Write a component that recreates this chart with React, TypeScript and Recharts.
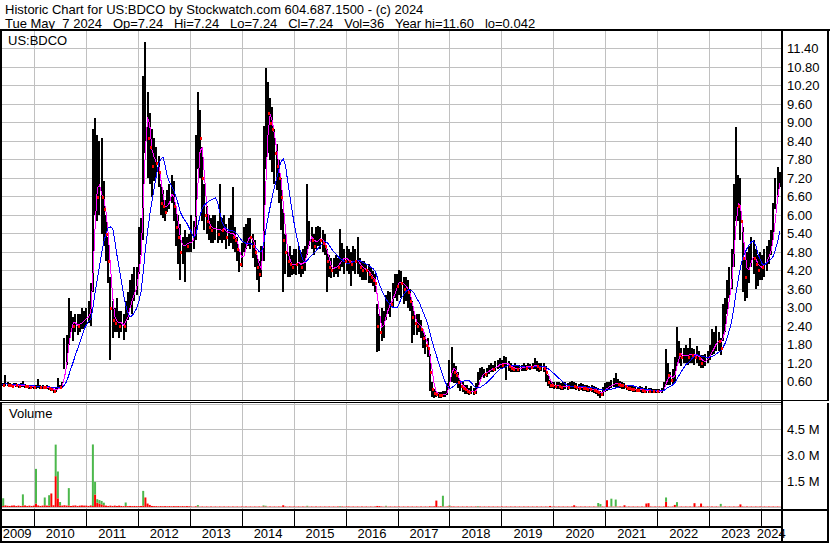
import React from 'react';
import { ComposedChart, Bar, Line, Scatter, XAxis, YAxis, CartesianGrid } from 'recharts';

// ---- semi-monthly price samples (close / high / low) ----
const close2009 = [0.52,0.50,0.55,0.50,0.48,0.47,0.50,0.49,0.46,0.47,0.48,0.45,0.44,0.43,0.44];
const high2009 = [0.58,0.56,0.82,0.58,0.54,0.53,0.56,0.55,0.52,0.54,0.62,0.52,0.50,0.49,0.50];
const low2009 = [0.46,0.44,0.45,0.44,0.42,0.41,0.44,0.42,0.40,0.41,0.42,0.39,0.38,0.37,0.38];

const close2010 = [0.42,0.43,0.44,0.43,0.42,0.41,0.42,0.40,0.36,0.30,0.33,0.45,0.42,0.50,1.30,1.60,2.50,2.60,2.40,2.50,2.40,2.50,2.60,2.60];
const high2010 = [0.48,0.50,0.68,0.49,0.48,0.47,0.49,0.46,0.42,0.36,0.40,0.70,0.50,0.60,2.00,2.10,3.30,2.90,2.70,2.80,2.80,2.80,3.00,2.90];
const low2010 = [0.37,0.37,0.38,0.37,0.36,0.35,0.36,0.34,0.30,0.22,0.26,0.35,0.36,0.40,1.00,1.14,1.80,2.20,1.90,2.20,2.10,2.20,2.30,2.30];

const close2011 = [2.70,2.80,3.00,6.50,7.50,6.60,6.80,6.60,6.20,5.40,4.50,3.00,2.60,2.50,2.60,2.40,2.50,2.40,2.70,3.00,3.30,3.40,3.70,3.80];
const high2011 = [3.00,3.20,3.80,8.80,9.15,8.60,8.40,8.50,7.10,6.00,5.30,4.00,3.20,3.00,3.30,2.90,2.90,2.80,3.20,3.50,3.90,4.10,4.30,4.30];
const low2011 = [2.40,2.50,2.40,3.50,6.00,5.80,6.00,5.40,5.00,4.50,3.80,1.30,2.00,2.20,2.20,2.00,2.20,1.95,2.20,2.60,3.00,2.80,3.20,3.40];

const close2012 = [4.90,5.40,9.00,10.00,8.50,8.20,7.60,7.80,7.70,7.40,6.40,6.30,6.10,6.50,6.60,6.90,6.30,5.60,5.30,4.80,5.00,5.20,5.00,5.10];
const high2012 = [5.60,5.90,10.50,11.60,10.00,9.30,8.80,8.50,8.20,7.90,7.00,6.80,6.50,6.80,7.00,7.30,7.10,6.30,6.00,5.70,5.30,5.50,5.30,5.40];
const low2012 = [4.10,4.70,5.20,8.00,7.20,7.00,6.60,7.10,7.20,6.90,6.00,5.90,5.80,6.10,6.20,6.40,5.80,5.00,4.40,3.90,4.40,3.83,4.80,4.80];

const close2013 = [5.20,5.30,7.00,8.80,8.50,7.20,6.00,5.80,5.60,5.50,5.60,5.60,5.40,5.60,5.50,5.60,5.30,5.40,5.50,5.30,5.20,4.90,4.40,4.60];
const high2013 = [6.00,5.80,8.60,9.98,9.40,8.20,7.00,6.30,6.00,5.90,6.00,6.00,5.80,7.00,5.90,6.00,5.70,5.90,6.00,6.90,5.60,5.30,4.90,5.10];
const low2013 = [4.80,4.90,5.20,7.50,7.20,5.80,5.50,5.40,5.20,5.10,5.10,5.20,5.10,5.20,5.10,5.20,4.90,5.00,5.10,4.90,4.80,4.50,4.15,4.30];

const close2014 = [5.00,5.20,5.40,5.30,5.00,4.80,4.30,4.10,4.40,7.00,9.50,9.30,9.00,8.80,8.00,7.60,7.20,6.60,5.20,4.80,4.50,4.40,4.30,4.50];
const high2014 = [5.60,5.70,5.90,5.90,5.40,5.20,4.70,4.50,5.00,8.90,10.76,10.30,9.80,9.50,8.80,8.30,7.80,7.20,6.20,5.40,4.80,5.00,4.70,4.90];
const low2014 = [4.80,4.90,5.00,4.90,4.60,4.30,3.90,3.50,4.00,4.50,7.50,8.00,7.80,7.40,7.00,6.80,6.40,5.50,3.50,4.10,4.00,4.00,4.05,4.10];

const close2015 = [4.40,4.50,4.30,4.50,4.60,5.30,5.40,5.20,5.00,5.20,5.30,5.20,5.10,5.00,4.50,4.30,4.20,4.30,4.40,4.30,4.60,4.70,4.50,4.60];
const high2015 = [4.90,5.00,4.80,4.90,5.00,7.00,5.80,5.60,5.40,5.60,5.65,5.60,5.50,5.40,4.90,4.70,4.60,4.60,4.70,4.60,5.55,5.10,4.90,5.00];
const low2015 = [4.05,4.10,4.00,4.10,4.20,4.70,5.00,4.90,4.70,4.90,5.00,4.90,4.80,4.70,3.50,4.00,3.95,4.00,4.10,4.00,4.20,4.30,4.10,4.20];

const close2016 = [4.50,4.40,4.60,4.50,4.50,4.30,4.20,4.30,4.20,4.10,4.00,3.90,3.80,2.40,2.20,2.50,2.60,3.00,3.20,3.10,3.40,3.80,3.70,3.90];
const high2016 = [4.90,4.80,5.00,4.90,5.30,4.60,4.50,4.50,4.40,4.40,4.30,4.20,4.10,3.10,2.80,3.00,2.90,3.40,3.55,3.50,3.80,4.10,4.10,4.22];
const low2016 = [4.10,3.70,4.20,4.10,4.10,4.00,3.90,3.90,3.90,3.80,3.80,3.70,3.50,1.55,1.60,1.90,2.00,2.60,2.80,2.70,3.00,3.30,3.20,3.40];

const close2017 = [3.80,3.60,3.70,3.50,3.20,2.70,2.50,2.40,2.50,2.30,2.00,1.80,1.70,0.90,0.35,0.22,0.20,0.17,0.15,0.18,0.20,0.35,1.00,1.20];
const high2017 = [4.20,4.00,4.00,3.90,3.60,3.20,2.90,2.80,2.80,2.60,2.30,2.10,2.00,1.50,0.60,0.35,0.30,0.25,0.25,0.28,0.30,0.55,1.30,1.72];
const low2017 = [3.30,3.10,3.20,3.00,2.90,1.85,2.10,2.10,2.20,2.00,1.70,1.50,1.40,0.30,0.10,0.08,0.10,0.07,0.07,0.10,0.10,0.15,0.40,0.60];

const close2018 = [0.90,0.80,0.60,0.45,0.40,0.35,0.30,0.25,0.30,0.25,0.35,0.60,0.85,0.90,0.85,0.90,1.00,1.05,1.00,1.10,1.15,1.20,1.15,1.20];
const high2018 = [1.20,1.10,0.90,0.65,0.60,0.50,0.50,0.40,0.45,0.40,0.55,0.90,1.05,1.08,1.00,1.05,1.15,1.20,1.15,1.25,1.30,1.35,1.30,1.42];
const low2018 = [0.55,0.55,0.40,0.30,0.25,0.20,0.20,0.15,0.18,0.17,0.20,0.40,0.65,0.75,0.70,0.75,0.85,0.90,0.90,0.95,1.00,1.05,1.00,1.05];

const close2019 = [1.20,1.10,1.05,1.00,1.05,1.00,1.05,1.05,1.10,1.05,1.10,1.08,1.10,1.15,1.10,1.05,1.10,1.05,0.90,0.60,0.50,0.48,0.45,0.47];
const high2019 = [1.40,1.25,1.20,1.15,1.20,1.15,1.15,1.15,1.20,1.15,1.20,1.18,1.20,1.35,1.25,1.20,1.20,1.20,1.10,0.80,0.65,0.60,0.60,0.60];
const low2019 = [0.65,0.95,0.90,0.90,0.90,0.90,0.90,0.95,0.95,0.95,1.00,0.98,1.00,1.00,0.95,0.90,0.95,0.90,0.60,0.45,0.40,0.38,0.35,0.37];

const close2020 = [0.45,0.42,0.44,0.45,0.42,0.45,0.47,0.44,0.42,0.40,0.42,0.40,0.38,0.36,0.35,0.36,0.34,0.30,0.25,0.20,0.30,0.40,0.42,0.45];
const high2020 = [0.58,0.55,0.58,0.60,0.55,0.60,0.62,0.58,0.55,0.52,0.55,0.52,0.50,0.48,0.47,0.48,0.45,0.42,0.38,0.30,0.42,0.55,0.60,0.60];
const low2020 = [0.35,0.33,0.34,0.35,0.32,0.35,0.37,0.35,0.33,0.30,0.32,0.30,0.28,0.26,0.25,0.25,0.24,0.20,0.12,0.07,0.12,0.25,0.30,0.35];

const close2021 = [0.50,0.55,0.55,0.52,0.50,0.48,0.45,0.40,0.38,0.37,0.35,0.34,0.33,0.33,0.32,0.30,0.32,0.30,0.30,0.29,0.29,0.28,0.28,0.30];
const high2021 = [0.65,0.70,0.87,0.68,0.62,0.60,0.55,0.50,0.48,0.46,0.45,0.44,0.42,0.45,0.42,0.40,0.45,0.40,0.38,0.37,0.36,0.35,0.35,0.38];
const low2021 = [0.38,0.42,0.40,0.40,0.38,0.37,0.35,0.32,0.30,0.28,0.27,0.26,0.25,0.25,0.24,0.23,0.24,0.23,0.24,0.23,0.23,0.22,0.22,0.23];

const close2022 = [0.40,0.90,0.80,0.65,0.70,1.00,1.60,1.50,1.40,1.45,1.50,1.40,1.55,1.45,1.40,1.50,1.35,1.20,1.25,1.30,1.40,1.55,1.70,1.80];
const high2022 = [0.60,1.67,1.20,0.90,1.00,1.40,2.37,1.90,1.70,1.70,1.80,1.70,2.00,1.70,1.65,1.75,1.60,1.45,1.45,1.50,1.60,1.80,2.30,2.20];
const low2022 = [0.30,0.50,0.50,0.50,0.50,0.60,1.10,1.20,1.10,1.20,1.20,1.15,1.20,1.20,1.15,1.20,1.10,1.05,1.05,1.10,1.20,1.30,1.45,1.50];

const close2023 = [2.00,1.90,1.70,2.40,2.70,3.40,3.80,4.30,6.00,6.80,6.30,5.80,4.60,4.00,4.20,4.50,4.80,4.60,4.40,4.20,4.40,4.30,4.50,4.60];
const high2023 = [2.40,2.20,2.00,3.10,3.30,3.90,4.30,4.90,7.00,8.85,7.30,7.20,5.60,4.60,4.80,5.00,5.30,5.20,4.90,4.70,4.80,4.70,4.90,5.00];
const low2023 = [1.60,1.60,1.45,1.90,2.20,2.80,3.30,3.60,4.30,5.80,5.80,5.20,3.50,3.20,3.30,3.80,4.30,4.10,3.60,3.70,3.90,3.90,4.00,4.20];

const close2024 = [4.80,5.10,5.80,6.80,7.10,7.24];
const high2024 = [5.20,5.50,6.40,7.20,7.55,7.40];
const low2024 = [4.40,4.70,5.20,6.20,6.60,6.90];

// ---- volume (millions): red (down) and green (up) parts ----
const volRed2009 = [0.08,0.06,0.09,0.07,0.06,0.08,0.09,0.06,0.08,0.06,0.08,0.09,0.06,0.08,0.06];
const volGreen2009 = [0,0.45,0,0,0,0,0,0,0,0,0.65,0,0,0,0];
const volRed2010 = [0.08,0.20,0.09,0.06,0.08,0.10,0.08,0.08,0.78,0.10,1.78,0.50,0.09,0.08,0.10,0.08,0.09,0.06,0.08,0.09,0.06,0.08,0.09,0.08];
const volGreen2010 = [0,2.00,0,0,0,0.45,0,0.60,0,0,1.82,1.55,0.20,0,0,0,1.00,0,0,0,0,0,0,0];
const volRed2011 = [0.08,0.06,0.09,0.06,0.72,0.25,0.20,0.15,0.10,0.08,0.06,0.08,0.06,0.08,0.06,0.08,0.06,0.05,0.06,0.05,0.06,0.05,0.06,0.05];
const volGreen2011 = [0,0,0,3.55,0.73,0.20,0.20,0.20,0.15,0,0,0,0,0,0,0,0,0,0.20,0,0,0,0,0];
const volRed2012 = [0.05,0.06,0.08,0.55,0.20,0.12,0.06,0.05,0.05,0.04,0.05,0.04,0.05,0.04,0.05,0.04,0.05,0.04,0.05,0.04,0.05,0.04,0.05,0.04];
const volGreen2012 = [0,0,0.85,0,0,0,0,0,0,0,0,0,0,0,0,0,0,0,0,0,0,0,0,0];
const volRed2013 = [0.03,0.02,0.04,0.03,0.02,0.03,0.02,0.03,0.02,0.03,0.02,0.03,0.02,0.03,0.02,0.03,0.02,0.03,0.02,0.03,0.02,0.03,0.02,0.03];
const volGreen2013 = [0,0,0,0.08,0,0,0,0,0,0,0,0,0,0,0,0,0,0,0,0,0,0,0,0];
const volRed2014 = [0.02,0.03,0.02,0.03,0.02,0.03,0.02,0.03,0.02,0.04,0.03,0.02,0.03,0.02,0.03,0.02,0.03,0.02,0.10,0.03,0.02,0.03,0.02,0.03];
const volGreen2014 = [0,0,0,0,0,0,0,0,0,0.05,0.04,0,0,0,0,0,0,0,0,0,0,0,0,0];
const volRed2015 = [0.02,0.03,0.02,0.03,0.02,0.03,0.02,0.03,0.02,0.03,0.02,0.03,0.02,0.03,0.02,0.03,0.02,0.03,0.02,0.03,0.02,0.03,0.02,0.03];
const volGreen2015 = [0,0,0,0,0,0.04,0,0,0,0,0,0,0,0,0,0,0,0,0,0,0.03,0,0,0];
const volRed2016 = [0.03,0.02,0.03,0.02,0.03,0.02,0.03,0.02,0.03,0.02,0.03,0.02,0.03,0.06,0.05,0.03,0.02,0.03,0.02,0.03,0.02,0.03,0.02,0.03];
const volGreen2016 = [0,0,0,0,0,0,0,0,0,0,0,0,0,0,0,0,0,0.04,0,0,0,0,0,0];
const volRed2017 = [0.02,0.03,0.02,0.03,0.02,0.03,0.02,0.03,0.02,0.03,0.02,0.03,0.02,0.04,0.03,0.04,0.37,0.03,0.04,0.03,0.02,0.03,0.04,0.03];
const volGreen2017 = [0,0,0,0,0,0,0,0,0,0,0,0,0,0,0,0,0,0,0,0.62,0,0,0.05,0];
const volRed2018 = [0.03,0.02,0.03,0.02,0.03,0.02,0.03,0.02,0.03,0.02,0.03,0.02,0.03,0.02,0.03,0.02,0.03,0.02,0.03,0.02,0.03,0.02,0.03,0.02];
const volGreen2018 = [0,0,0,0,0,0,0,0,0,0,0,0.03,0,0,0,0,0,0,0,0,0,0,0,0];
const volRed2019 = [0.03,0.02,0.03,0.02,0.03,0.02,0.03,0.02,0.03,0.02,0.03,0.02,0.03,0.02,0.03,0.02,0.03,0.02,0.03,0.02,0.06,0.02,0.03,0.02];
const volGreen2019 = [0,0,0,0,0,0,0,0,0,0,0,0,0,0,0,0,0,0,0,0,0,0,0,0];
const volRed2020 = [0.03,0.02,0.03,0.02,0.03,0.02,0.03,0.10,0.03,0.02,0.03,0.02,0.03,0.02,0.03,0.02,0.03,0.02,0.03,0.02,0.03,0.02,0.39,0.02];
const volGreen2020 = [0,0,0,0,0,0,0,0,0,0,0,0,0,0,0,0,0,0,0.20,0.15,0,0,0,0];
const volRed2021 = [0.03,0.02,0.03,0.02,0.03,0.02,0.10,0.02,0.03,0.02,0.03,0.02,0.03,0.02,0.03,0.02,0.20,0.22,0.03,0.02,0.03,0.02,0.03,0.02];
const volGreen2021 = [0.45,0,0.40,0,0,0,0,0,0,0,0,0,0,0,0,0,0,0,0,0,0,0,0,0];
const volRed2022 = [0.03,0.30,0.03,0.02,0.03,0.12,0.03,0.02,0.03,0.02,0.03,0.02,0.03,0.02,0.22,0.02,0.03,0.20,0.03,0.02,0.03,0.02,0.03,0.02];
const volGreen2022 = [0,0.25,0,0,0,0,0.25,0,0,0,0,0,0,0,0,0,0,0,0,0,0,0,0,0];
const volRed2023 = [0.03,0.02,0.03,0.02,0.03,0.02,0.03,0.02,0.03,0.02,0.03,0.15,0.03,0.02,0.03,0.02,0.03,0.02,0.03,0.02,0.03,0.02,0.03,0.02];
const volGreen2023 = [0,0,0.15,0,0,0,0,0,0,0,0,0,0,0,0,0,0,0,0,0,0,0,0,0];
const volRed2024 = [0.03,0.02,0.03,0.02,0.03,0.02];
const volGreen2024 = [0,0,0,0,0,0];

// ---- time axis / ticks ----
const firstSampleDate = 2009.34;        // mid-May 2009
const lastSampleDate = 2024.371;        // 7 May 2024
const yearStarts = [2010,2011,2012,2013,2014,2015,2016,2017,2018,2019,2020,2021,2022,2023,2024];
const yearLabelPos = [2009.67,2010.5,2011.5,2012.5,2013.5,2014.5,2015.5,2016.5,2017.5,2018.5,2019.5,2020.5,2021.5,2022.5,2023.5,2024.185];
const priceTicks = [0.6,1.2,1.8,2.4,3.0,3.6,4.2,4.8,5.4,6.0,6.6,7.2,7.8,8.4,9.0,9.6,10.2,10.8,11.4];
const volumeTicks = [1.5,3.0,4.5];

const closes = [...close2009,...close2010,...close2011,...close2012,...close2013,...close2014,...close2015,...close2016,...close2017,...close2018,...close2019,...close2020,...close2021,...close2022,...close2023,...close2024];
const highs = [...high2009,...high2010,...high2011,...high2012,...high2013,...high2014,...high2015,...high2016,...high2017,...high2018,...high2019,...high2020,...high2021,...high2022,...high2023,...high2024];
const lows = [...low2009,...low2010,...low2011,...low2012,...low2013,...low2014,...low2015,...low2016,...low2017,...low2018,...low2019,...low2020,...low2021,...low2022,...low2023,...low2024];
const volReds = [...volRed2009,...volRed2010,...volRed2011,...volRed2012,...volRed2013,...volRed2014,...volRed2015,...volRed2016,...volRed2017,...volRed2018,...volRed2019,...volRed2020,...volRed2021,...volRed2022,...volRed2023,...volRed2024];
const volGreens = [...volGreen2009,...volGreen2010,...volGreen2011,...volGreen2012,...volGreen2013,...volGreen2014,...volGreen2015,...volGreen2016,...volGreen2017,...volGreen2018,...volGreen2019,...volGreen2020,...volGreen2021,...volGreen2022,...volGreen2023,...volGreen2024];

const sampleStep = (lastSampleDate - firstSampleDate) / closes.length;

function movingAvg(arr: number[], n: number, i: number) {
  let s = 0, c = 0;
  for (let k = Math.max(0, i - n + 1); k <= i; k++) { s += arr[k]; c++; }
  return s / c;
}

const data = closes.map((c, i) => ({
  t: firstSampleDate + (i + 0.5) * sampleStep,
  rng: [lows[i], highs[i]],
  close: c,
  dn: i > 0 && c < closes[i - 1],
  ma3: movingAvg(closes, 3, i),
  ma10: movingAvg(closes, 10, i),
  vr: volReds[i],
  vg: volGreens[i],
}));

const FONT = '"Liberation Sans", Arial, sans-serif';
const W = 830;
const VOL_H = 105;
const GRID = '#c0c0c0';
const timeDomain: [number, number] = [firstSampleDate, lastSampleDate];
const tickStyle = { fontSize: 13, fill: '#000', fontFamily: FONT };

const PriceBar = (p: any) => {
  const h = Math.abs(p.height || 0);
  const top = Math.min(p.y, p.y + (p.height || 0));
  return <rect x={Math.round(p.x + p.width / 2 - 1)} y={top} width={2} height={Math.max(1, h)} fill="#000" shapeRendering="crispEdges" />;
};

const CloseMark = (p: any) =>
  p && p.payload && p.payload.dn ? <rect x={Math.round(p.cx)} y={Math.round(p.cy) - 1} width={2} height={3} fill="#ff0000" shapeRendering="crispEdges" /> : <g />;

const RedVol = (p: any) => (
  <rect x={p.x} y={p.y} width={p.width} height={Math.max(0, VOL_H - p.y)} fill="#ff0000" />
);

// vertical year lines drawn by a grid-only chart (same time scale as the panels)
function YearGrid({ top, height, color }: { top: number; height: number; color: string }) {
  return (
    <div style={{ position: 'absolute', left: 0, top }}>
      <ComposedChart width={W} height={height} data={data} margin={{ top: 0, right: 49, bottom: 0, left: 0 }}>
        <CartesianGrid horizontal={false} stroke={color} strokeWidth={1} shapeRendering="crispEdges" />
        <XAxis dataKey="t" type="number" domain={timeDomain} ticks={yearStarts} allowDataOverflow hide height={0} />
        <YAxis hide domain={[0, 1]} allowDataOverflow />
        <Line dataKey="close" stroke="none" dot={false} isAnimationActive={false} />
      </ComposedChart>
    </div>
  );
}

export default function App() {
  return (
    <div style={{ position: 'absolute', left: 0, top: 0, width: W, height: 543, background: '#fff', overflow: 'hidden', fontFamily: FONT }}>
      {/* vertical year gridlines behind price + volume panels */}
      <YearGrid top={31} height={478} color={GRID} />

      {/* price panel */}
      <div style={{ position: 'absolute', left: 0, top: 0 }}>
        <ComposedChart width={W} height={400} data={data} margin={{ top: 30, right: 0, bottom: 0, left: 0 }}>
          <CartesianGrid stroke={GRID} vertical={false} shapeRendering="crispEdges" />
          <XAxis dataKey="t" type="number" domain={timeDomain} ticks={yearStarts} allowDataOverflow hide height={0} />
          <YAxis orientation="right" width={49} domain={[0, 12]} ticks={priceTicks} interval={0}
            tickFormatter={(v: number) => v.toFixed(2)} axisLine={false} tickLine={false} tickSize={0} tickMargin={6} tick={tickStyle} />
          <Bar dataKey="rng" fill="#000" barSize={2} shape={PriceBar} isAnimationActive={false} />
          <Scatter dataKey="close" shape={CloseMark} isAnimationActive={false} />
          <Line dataKey="ma3" stroke="#ff00ff" strokeWidth={1} dot={false} isAnimationActive={false} type="linear" shapeRendering="crispEdges" />
          <Line dataKey="ma10" stroke="#0000ff" strokeWidth={1} dot={false} isAnimationActive={false} type="linear" shapeRendering="crispEdges" />
        </ComposedChart>
      </div>

      {/* volume panel */}
      <div style={{ position: 'absolute', left: 0, top: 404 }}>
        <ComposedChart width={W} height={VOL_H} data={data} margin={{ top: 0, right: 0, bottom: 2, left: 0 }}>
          <CartesianGrid stroke={GRID} vertical={false} shapeRendering="crispEdges" />
          <XAxis dataKey="t" type="number" domain={timeDomain} ticks={yearStarts} allowDataOverflow hide height={0} />
          <YAxis orientation="right" width={49} domain={[0, 5.943]} ticks={volumeTicks} interval={0} allowDataOverflow
            tickFormatter={(v: number) => `${v.toFixed(1)} M`} axisLine={false} tickLine={false} tickSize={0} tickMargin={6} tick={tickStyle} />
          <Bar dataKey="vr" stackId="v" fill="#ff0000" barSize={2} shape={RedVol} isAnimationActive={false} />
          <Bar dataKey="vg" stackId="v" fill="#4cb84c" barSize={2} isAnimationActive={false} />
        </ComposedChart>
      </div>

      {/* year strip + labels */}
      <div style={{ position: 'absolute', left: 0, top: 510 }}>
        <ComposedChart width={W} height={33} data={data} margin={{ top: 0, right: 49, bottom: 0, left: 0 }}>
          <CartesianGrid horizontal={false} stroke="#000" shapeRendering="crispEdges" />
          <XAxis dataKey="t" type="number" domain={timeDomain} ticks={yearStarts} allowDataOverflow hide height={0} />
          <XAxis xAxisId="lbl" dataKey="t" type="number" domain={timeDomain} ticks={yearLabelPos} allowDataOverflow interval={0}
            tickFormatter={(v: number) => String(Math.floor(v))} axisLine={false} tickLine={false} tickSize={0} tickMargin={3}
            height={17} tick={tickStyle} />
          <YAxis hide domain={[0, 1]} allowDataOverflow />
          <Line dataKey="close" stroke="none" dot={false} isAnimationActive={false} />
          <Line xAxisId="lbl" dataKey="close" stroke="none" dot={false} isAnimationActive={false} />
        </ComposedChart>
      </div>

      {/* frame and captions */}
      <svg width={W} height={543} style={{ position: 'absolute', left: 0, top: 0, pointerEvents: 'none' }}>
        <text x={5} y={14} fontSize={13} fontFamily={FONT} fill="#000" style={{ whiteSpace: 'pre' }}>
          Historic Chart for US:BDCO by Stockwatch.com 604.687.1500 - (c) 2024
        </text>
        <text x={5} y={27.5} fontSize={13} fontFamily={FONT} fill="#000" style={{ whiteSpace: 'pre' }}>
          {'Tue May  7 2024   Op=7.24   Hi=7.24   Lo=7.24   Cl=7.24   Vol=36   Year hi=11.60   lo=0.042'}
        </text>
        <text x={8} y={45} fontSize={13} fontFamily={FONT} fill="#000">US:BDCO</text>
        <text x={9} y={418} fontSize={13} fontFamily={FONT} fill="#000">Volume</text>
        <rect x={0} y={29} width={W} height={2} fill="#000" />
        <rect x={0} y={29} width={2} height={514} fill="#000" />
        <rect x={827} y={29} width={2} height={514} fill="#000" />
        <rect x={781} y={29} width={2} height={514} fill="#000" />
        <rect x={0} y={400} width={829} height={3} fill="#fff" />
        <rect x={0} y={400} width={829} height={1} fill="#000" />
        <rect x={0} y={402} width={783} height={1} fill="#000" />
        <rect x={0} y={509} width={829} height={2} fill="#000" />
        <rect x={0} y={526} width={783} height={2} fill="#000" />
        <rect x={0} y={541} width={829} height={2} fill="#000" />
        <rect x={781} y={400} width={2} height={3} fill="#000" />
      </svg>
    </div>
  );
}
